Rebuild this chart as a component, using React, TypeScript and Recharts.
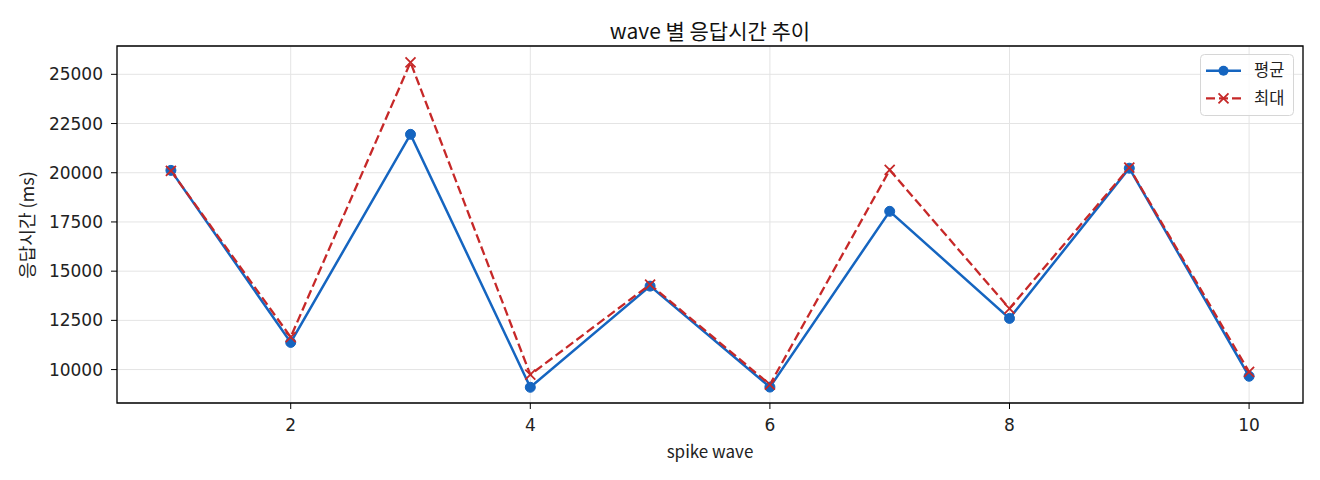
import React from "react";
import { LineChart, Line, XAxis, YAxis, CartesianGrid, ReferenceArea } from "recharts";

const waves = [1, 2, 3, 4, 5, 6, 7, 8, 9, 10];
const avgValues = [20120, 11380, 21950, 9100, 14240, 9110, 18040, 12600, 20230, 9660];
const maxValues = [20100, 11650, 25610, 9740, 14320, 9240, 20140, 13100, 20260, 9880];
const xTicks = [2, 4, 6, 8, 10];
const yTicks = [10000, 12500, 15000, 17500, 20000, 22500, 25000];
const seriesNames = ["평균", "최대"];
const titleText = "wave 별 응답시간 추이";
const xLabelText = "spike wave";
const yLabelText = "응답시간 (ms)";

const BLUE = "#1565C0";
const RED = "#C62828";
const KFONT = "'Noto Sans CJK KR', 'Noto Sans', sans-serif";
const NFONT = "'DejaVu Sans', sans-serif";

const data = waves.map((w, i) => ({ wave: w, avg: avgValues[i], max: maxValues[i] }));

const XDot = (props: any) => {
  const { cx, cy, index } = props;
  if (cx == null || cy == null) return <g key={`x-${index}`} />;
  const s = 5;
  return (
    <path
      key={`x-${index}`}
      d={`M${cx - s},${cy - s}L${cx + s},${cy + s}M${cx + s},${cy - s}L${cx - s},${cy + s}`}
      stroke={RED}
      strokeWidth={1.8}
      fill="none"
    />
  );
};

export default function App() {
  return (
    <div style={{ position: "absolute", left: 0, top: 0, width: 1320, height: 480, background: "#fff", fontFamily: KFONT }}>
      <LineChart width={1320} height={480} data={data} margin={{ top: 46, right: 17, bottom: 0, left: 0 }}>
        <CartesianGrid stroke="#e4e4e4" strokeWidth={1} />
        <XAxis
          dataKey="wave"
          type="number"
          domain={[0.55, 10.45]}
          ticks={xTicks}
          allowDataOverflow
          height={77}
          axisLine={false}
          tickLine={{ stroke: "#000", strokeWidth: 1 }}
          tickSize={6}
          tickMargin={10}
          tick={{ fill: "#222", fontSize: 17, fontFamily: NFONT }}
        />
        <YAxis
          type="number"
          domain={[8302, 26439]}
          ticks={yTicks}
          allowDataOverflow
          width={117}
          axisLine={false}
          tickLine={{ stroke: "#000", strokeWidth: 1 }}
          tickSize={6}
          tickMargin={8}
          tick={{ fill: "#222", fontSize: 17, fontFamily: NFONT }}
        />
        <ReferenceArea x1={0.55} x2={10.45} y1={8302} y2={26439} fill="none" stroke="#000" strokeWidth={1.3} ifOverflow="visible" />
        <Line
          type="linear"
          dataKey="avg"
          name={seriesNames[0]}
          stroke={BLUE}
          strokeWidth={2.5}
          dot={{ r: 5, fill: BLUE, stroke: BLUE, strokeWidth: 1 }}
          activeDot={false}
          isAnimationActive={false}
        />
        <Line
          type="linear"
          dataKey="max"
          name={seriesNames[1]}
          stroke={RED}
          strokeWidth={2.3}
          strokeDasharray="9 4"
          dot={XDot}
          activeDot={false}
          isAnimationActive={false}
        />
      </LineChart>
      <div style={{ position: "absolute", left: 0, width: 1420, top: 18, lineHeight: "24px", fontSize: 21, color: "#111", textAlign: "center", whiteSpace: "nowrap" }}>
        {titleText}
      </div>
      <div style={{ position: "absolute", left: 117, width: 1186, top: 441, lineHeight: "20px", fontSize: 17, color: "#222", textAlign: "center", whiteSpace: "nowrap" }}>
        {xLabelText}
      </div>
      <div
        style={{
          position: "absolute",
          left: 26,
          top: 225,
          transform: "translate(-50%, -50%) rotate(-90deg)",
          fontSize: 18,
          lineHeight: "20px",
          color: "#222",
          whiteSpace: "nowrap",
        }}
      >
        {yLabelText}
      </div>
      <svg style={{ position: "absolute", left: 1200, top: 54 }} width={94} height={62}>
        <rect x={0.5} y={0.5} width={93} height={61} rx={4} ry={4} fill="#fff" fillOpacity={0.8} stroke="#d6d6d6" strokeWidth={1} />
        <line x1={6} y1={16.7} x2={41} y2={16.7} stroke={BLUE} strokeWidth={2.5} />
        <circle cx={23.5} cy={16.7} r={5} fill={BLUE} />
        <text x={54} y={16.7} dy="0.35em" fontSize={16.5} fill="#222" fontFamily={KFONT}>{seriesNames[0]}</text>
        <line x1={6} y1={44.3} x2={41} y2={44.3} stroke={RED} strokeWidth={2.3} strokeDasharray="9 4" />
        <path d="M18.5,39.3L28.5,49.3M28.5,39.3L18.5,49.3" stroke={RED} strokeWidth={1.8} fill="none" />
        <text x={54} y={44.3} dy="0.35em" fontSize={16.5} fill="#222" fontFamily={KFONT}>{seriesNames[1]}</text>
      </svg>
    </div>
  );
}
